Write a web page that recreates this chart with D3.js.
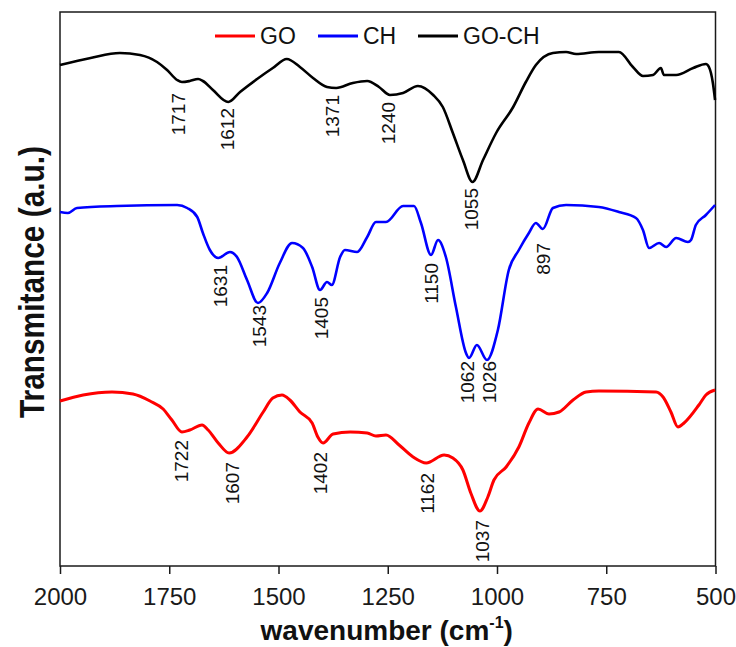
<!DOCTYPE html>
<html>
<head>
<meta charset="utf-8">
<script src="https://cdn.jsdelivr.net/npm/d3@7"></script>
<style>
  html, body { margin: 0; padding: 0; background: #fff; }
  svg { display: block; font-family: "Liberation Sans", Arial, sans-serif; }
</style>
</head>
<body>
<svg id="chart" width="736" height="647"></svg>
<script>
// ---------------- DATA ----------------
const xTicks = [2000, 1750, 1500, 1250, 1000, 750, 500];
const seriesNames = ["GO", "CH", "GO-CH"];

// GO-CH (black) : wavenumber / transmittance (arbitrary units)
const wnGOCH = [2000, 1930, 1863, 1817, 1778, 1755, 1732, 1721, 1703, 1684, 1673, 1650, 1615, 1588, 1549, 1513, 1481, 1451, 1421, 1389, 1368, 1330, 1297, 1270, 1245, 1215, 1181, 1146, 1124, 1101, 1078, 1056, 1032, 1002, 963, 934, 911, 872, 842, 819, 767, 721, 689, 666, 643, 625, 618, 590, 551, 522, 515, 506, 501];
const tGOCH  = [501, 508, 513, 511, 504, 496, 486, 484, 485, 487, 485, 476, 464, 474, 487, 498, 507, 499, 488, 479, 478, 483, 485, 479, 471, 473, 480, 471, 459, 433, 406, 384, 406, 433, 459, 484, 501, 513, 514, 512, 514, 514, 499, 490, 491, 498, 491, 491, 498, 502, 499, 483, 466];

// CH (blue)
const wnCH = [2000, 1982, 1961, 1870, 1732, 1709, 1686, 1673, 1657, 1638, 1611, 1595, 1572, 1547, 1526, 1497, 1469, 1444, 1423, 1405, 1389, 1378, 1359, 1348, 1320, 1297, 1277, 1254, 1215, 1190, 1174, 1151, 1135, 1117, 1094, 1071, 1064, 1046, 1023, 998, 973, 950, 927, 911, 895, 872, 842, 767, 721, 682, 666, 652, 629, 613, 590, 563, 556, 545, 522, 501];
const tCH  = [354, 353, 358, 360, 361, 358, 349, 333, 316, 308, 314, 309, 286, 263, 273, 303, 323, 318, 299, 276, 284, 281, 309, 316, 314, 329, 344, 344, 360, 360, 343, 311, 326, 309, 259, 213, 208, 221, 206, 236, 296, 316, 333, 343, 337, 358, 361, 359, 354, 348, 336, 318, 323, 319, 328, 324, 326, 341, 351, 361];

// GO (red)
const wnGO = [2000, 1947, 1881, 1833, 1794, 1764, 1744, 1721, 1703, 1675, 1661, 1638, 1613, 1572, 1535, 1513, 1492, 1474, 1451, 1423, 1410, 1398, 1375, 1336, 1297, 1277, 1254, 1224, 1192, 1162, 1121, 1101, 1078, 1060, 1039, 1021, 1007, 979, 950, 927, 906, 881, 858, 826, 796, 767, 636, 620, 602, 586, 572, 538, 522, 501];
const tGO  = [165, 171, 174, 172, 165, 157, 146, 134, 136, 141, 136, 123, 113, 129, 154, 168, 171, 166, 154, 143, 129, 123, 132, 134, 133, 130, 131, 121, 109, 103, 111, 108, 96, 73, 55, 69, 86, 99, 119, 143, 157, 152, 154, 166, 174, 175, 174, 169, 154, 139, 143, 161, 171, 176];

// Peak annotations: label, where the label sits (wavenumber), top of label (transmittance units)
const peaksGOCH = ["1717", "1612", "1371", "1240", "1055"];
const peaksGOCHwn = [1729, 1617, 1378, 1249, 1059];
const peaksGOCHtop = [473, 458, 471, 464, 378];
const peaksCH = ["1631", "1543", "1405", "1150", "1062", "1026", "897"];
const peaksCHwn = [1634, 1545, 1403, 1150, 1069, 1018, 895];
const peaksCHtop = [301, 261, 269, 303, 205, 205, 323];
const peaksGO = ["1722", "1607", "1402", "1162", "1037"];
const peaksGOwn = [1723, 1606, 1405, 1160, 1033];
const peaksGOtop = [126, 104, 114, 93, 46];

const colors = ["#ff0000", "#0000ff", "#000000"];

// ---------------- LAYOUT ----------------
const svg = d3.select("#chart");
const mLeft = 60, mRight = 715.5, mTop = 12, mBottom = 566;

const x = d3.scaleLinear().domain([2000, 500]).range([mLeft, mRight]);
const y = d3.scaleLinear().domain([0, 554]).range([mBottom, mTop]);

// Frame
svg.append("rect")
  .attr("x", mLeft).attr("y", mTop)
  .attr("width", mRight - mLeft).attr("height", mBottom - mTop)
  .attr("fill", "none").attr("stroke", "#1a1a1a").attr("stroke-width", 1.5);

// X axis
const xAxis = svg.append("g")
  .attr("transform", `translate(0,${mBottom})`)
  .call(d3.axisBottom(x).tickValues(xTicks).tickFormat(d3.format("d")).tickSize(8).tickPadding(14));
xAxis.select(".domain").remove();
xAxis.selectAll(".tick line").attr("stroke", "#1a1a1a").attr("stroke-width", 1.5);
xAxis.selectAll(".tick text")
  .attr("font-size", 24).attr("fill", "#1a1a1a")
  .attr("font-family", "'Liberation Sans', Arial, sans-serif");

// Curves
const line = d3.line()
  .x(d => x(d[0])).y(d => y(d[1]))
  .curve(d3.curveMonotoneX);

const series = [
  { wn: wnGO, t: tGO, color: colors[0], w: 3 },
  { wn: wnCH, t: tCH, color: colors[1], w: 2.6 },
  { wn: wnGOCH, t: tGOCH, color: colors[2], w: 2.6 }
];
series.forEach(s => {
  const pts = s.wn.map((w, i) => [w, s.t[i]]);
  svg.append("path")
    .attr("d", line(pts))
    .attr("fill", "none")
    .attr("stroke", s.color)
    .attr("stroke-width", s.w)
    .attr("stroke-linejoin", "round");
});

// Peak labels
function peakLabels(labels, wns, tops) {
  labels.forEach((lab, i) => {
    const px = x(wns[i]), py = y(tops[i]);
    svg.append("text")
      .attr("transform", `translate(${px},${py}) rotate(-90)`)
      .attr("text-anchor", "end")
      .attr("dy", "0.36em")
      .attr("font-size", 19)
      .attr("fill", "#111")
      .text(lab);
  });
}
peakLabels(peaksGOCH, peaksGOCHwn, peaksGOCHtop);
peakLabels(peaksCH, peaksCHwn, peaksCHtop);
peakLabels(peaksGO, peaksGOwn, peaksGOtop);

// Legend
const legendX = [215, 318, 418];
seriesNames.forEach((name, i) => {
  const g = svg.append("g").attr("transform", `translate(${legendX[i]},36)`);
  g.append("line").attr("x1", 0).attr("x2", 40).attr("y1", 0).attr("y2", 0)
    .attr("stroke", colors[i]).attr("stroke-width", 3);
  g.append("text").attr("x", 45).attr("y", 8)
    .attr("font-size", 23).attr("fill", "#111").text(name);
});

// Axis titles
const xt = svg.append("text")
  .attr("x", (mLeft + mRight) / 2 - 1).attr("y", 640)
  .attr("text-anchor", "middle")
  .attr("font-size", 28).attr("font-weight", "bold").attr("fill", "#111");
xt.append("tspan").text("wavenumber (cm");
xt.append("tspan").attr("font-size", 16).attr("dy", -12).text("-1");
xt.append("tspan").attr("dy", 12).text(")");

svg.append("text")
  .attr("transform", `translate(44,${(mTop + mBottom) / 2 - 7}) rotate(-90)`)
  .attr("text-anchor", "middle")
  .attr("font-size", 35).attr("font-weight", "bold").attr("fill", "#111")
  .attr("textLength", 272).attr("lengthAdjust", "spacingAndGlyphs")
  .text("Transmitance (a.u.)");
</script>
</body>
</html>
